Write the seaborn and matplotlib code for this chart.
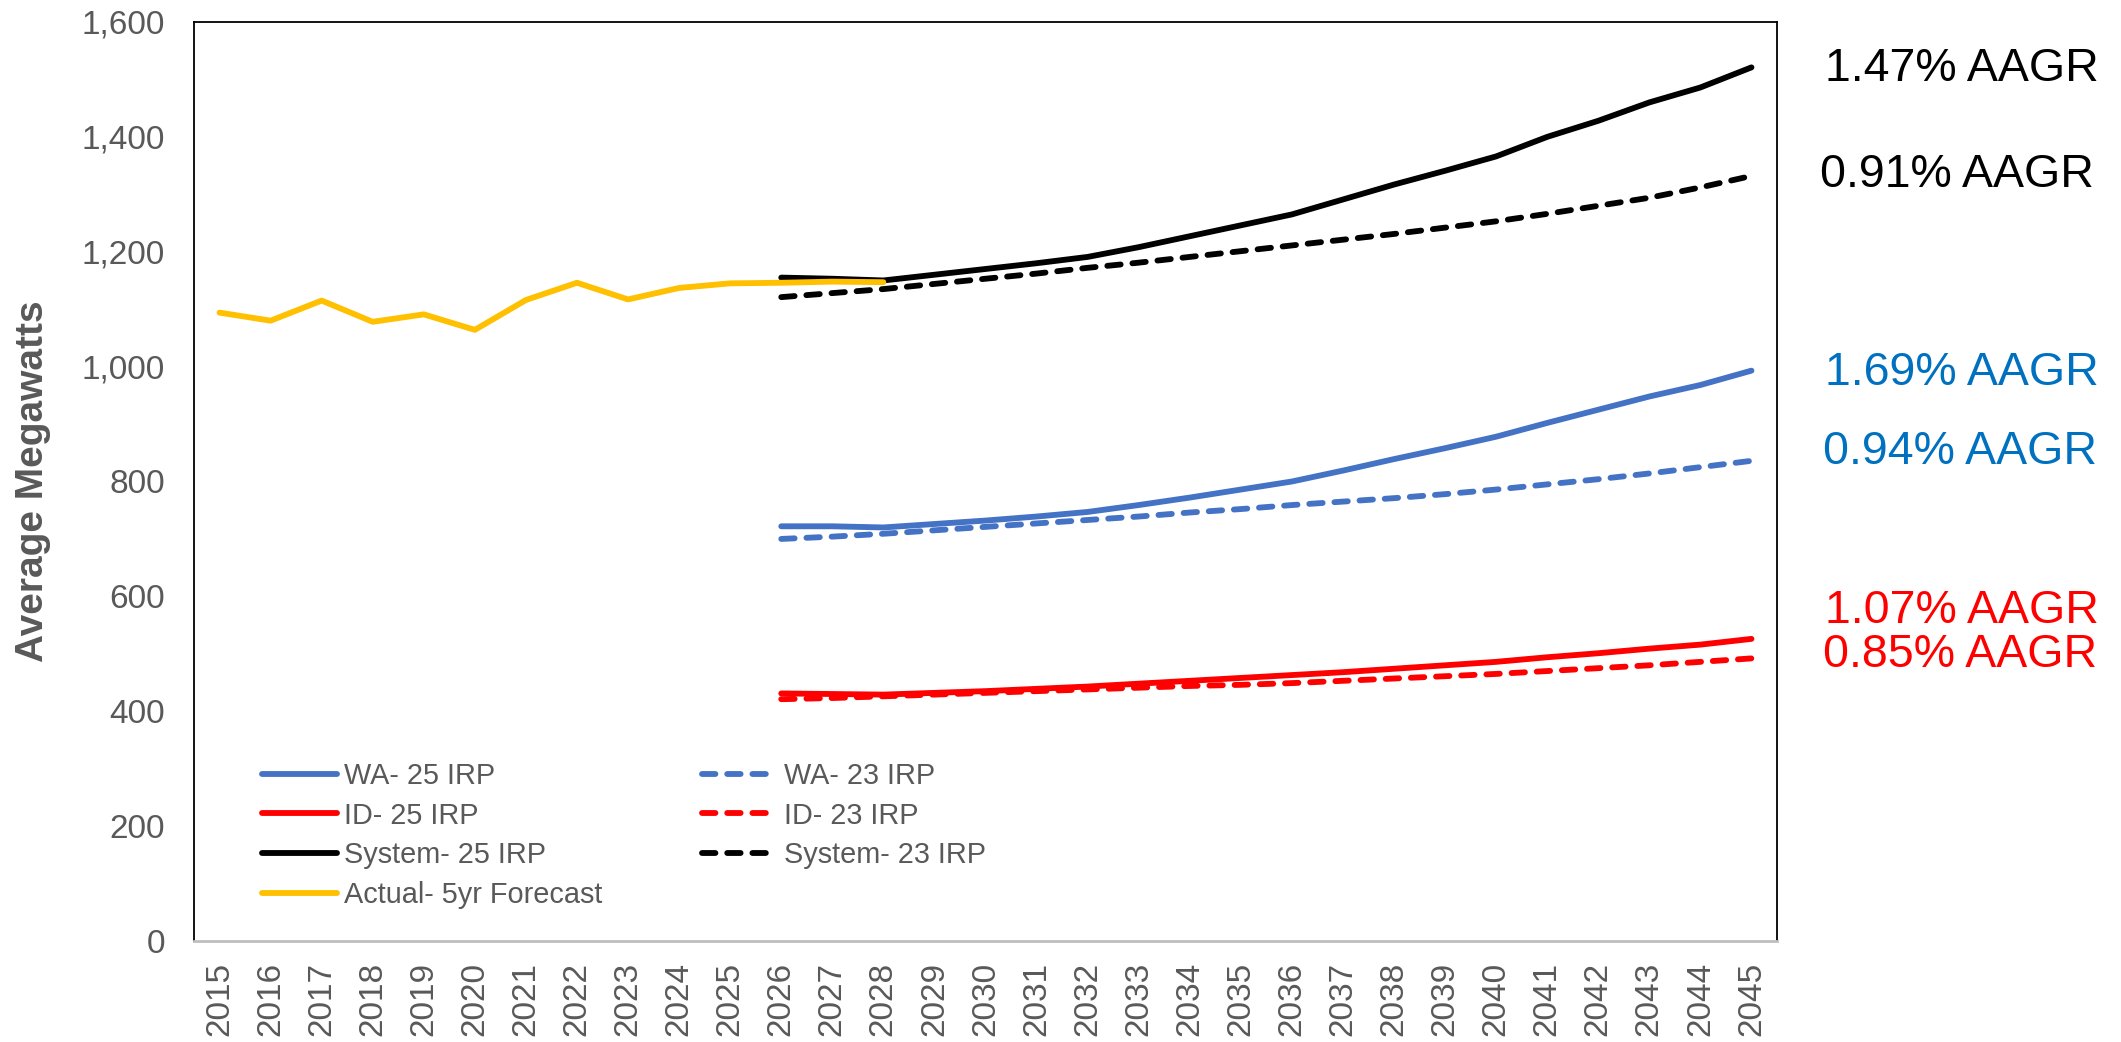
import matplotlib
matplotlib.use("Agg")
import matplotlib.pyplot as plt
import seaborn as sns
import numpy as np

# ---- data ----
years = list(range(2015, 2046))
actual_years = list(range(2015, 2029))
actual = [1094, 1080, 1115, 1078, 1091, 1064, 1116, 1146, 1117, 1137, 1145, 1146, 1148, 1147]

fc_years = list(range(2026, 2046))
wa_25 = [722, 722, 720, 726, 732, 739, 747, 759, 772, 786, 800, 819, 839, 858, 878, 902, 925, 948, 968, 993]
wa_23 = [700, 704, 709, 715, 721, 727, 733, 739, 746, 752, 759, 765, 771, 778, 786, 795, 804, 814, 825, 836]
id_25 = [431, 430, 429, 432, 435, 439, 443, 448, 453, 458, 463, 468, 474, 480, 486, 494, 501, 509, 516, 526]
id_23 = [421, 423, 426, 429, 432, 435, 438, 441, 444, 446, 449, 453, 457, 461, 465, 470, 475, 480, 486, 492]
sys_25 = [1155, 1153, 1150, 1160, 1170, 1180, 1191, 1208, 1227, 1246, 1265, 1291, 1317, 1341, 1366, 1400, 1428, 1460, 1486, 1521]
sys_23 = [1121, 1128, 1135, 1144, 1153, 1162, 1172, 1181, 1191, 1201, 1211, 1221, 1231, 1242, 1253, 1266, 1280, 1294, 1312, 1332]

aagr_labels = ["1.47% AAGR", "0.91% AAGR", "1.69% AAGR", "0.94% AAGR", "1.07% AAGR", "0.85% AAGR"]
aagr_colors = ["#000000", "#000000", "#0070C0", "#0070C0", "#FF0000", "#FF0000"]

# ---- style ----
sns.set_style("white")
plt.rcParams['font.family'] = ['Liberation Sans', 'DejaVu Sans']

W, H = 2121, 1042
fig = plt.figure(figsize=(W / 100, H / 100), dpi=100)
ax = fig.add_axes([194 / W, 1 - 941 / H, (1777 - 194) / W, (941 - 22) / H])

BLUE, RED, BLACK, GOLD = "#4472C4", "#FF0000", "#000000", "#FFC000"
LW = 4.2
dash = (0, (2.3, 2.02))

def solid(x, y, c, lab, z):
    sns.lineplot(x=x, y=y, ax=ax, color=c, lw=LW, label=lab,
                 solid_capstyle='round', zorder=z)

def dashed(x, y, c, lab, z):
    sns.lineplot(x=x, y=y, ax=ax, color=c, lw=LW, label=lab,
                 linestyle=dash, dash_capstyle='round', zorder=z)

solid(fc_years, wa_25, BLUE, "WA- 25 IRP", 3)
dashed(fc_years, wa_23, BLUE, "WA- 23 IRP", 3)
solid(fc_years, id_25, RED, "ID- 25 IRP", 3)
dashed(fc_years, id_23, RED, "ID- 23 IRP", 3)
solid(fc_years, sys_25, BLACK, "System- 25 IRP", 3)
dashed(fc_years, sys_23, BLACK, "System- 23 IRP", 3)
solid(actual_years, actual, GOLD, "Actual- 5yr Forecast", 4)

ax.set_xlim(2014.5, 2045.5)
ax.set_ylim(0, 1600)
ax.set_yticks(range(0, 1601, 200))
ax.set_yticklabels([f"{v:,}" for v in range(0, 1601, 200)])
ax.set_xticks(years)
ax.set_xticklabels([str(y) for y in years], rotation=90)
ax.tick_params(axis='both', length=0, labelsize=24, colors="#595959")
ax.tick_params(axis='y', pad=21)
ax.tick_params(axis='x', pad=15)

ax.set_xlabel("")
ax.set_ylabel("Average Megawatts", fontsize=28, fontweight='bold', color="#595959")
ax.yaxis.set_label_coords(-0.0905, 0.5)

for side in ['left', 'top', 'right']:
    ax.spines[side].set_color("#000000")
    ax.spines[side].set_linewidth(1.3)
ax.spines['bottom'].set_color("#BFBFBF")
ax.spines['bottom'].set_linewidth(2)

# legend ordering: column-major
handles, labels = ax.get_legend_handles_labels()
order = ["WA- 25 IRP", "ID- 25 IRP", "System- 25 IRP", "Actual- 5yr Forecast",
         "WA- 23 IRP", "ID- 23 IRP", "System- 23 IRP"]
hmap = dict(zip(labels, handles))
leg = ax.legend([hmap[o] for o in order], order, ncol=2, frameon=False,
                loc='upper left', bbox_to_anchor=((262 - 194) / 1583, (941 - 762) / 919),
                borderaxespad=0, borderpad=0, fontsize=20.8, handlelength=2.6,
                handletextpad=0.25, columnspacing=3.42, labelspacing=0.4)
for t in leg.get_texts():
    t.set_color("#595959")

# AAGR annotations
ys = [69, 175, 373, 452, 611, 655]
xs = [1825, 1820, 1825, 1823, 1825, 1823]
for lab, col, yy, xx in zip(aagr_labels, aagr_colors, ys, xs):
    fig.text(xx / W, 1 - yy / H, lab, color=col, fontsize=33.5,
             ha='left', va='center')

fig.savefig("out.png", dpi=100)
